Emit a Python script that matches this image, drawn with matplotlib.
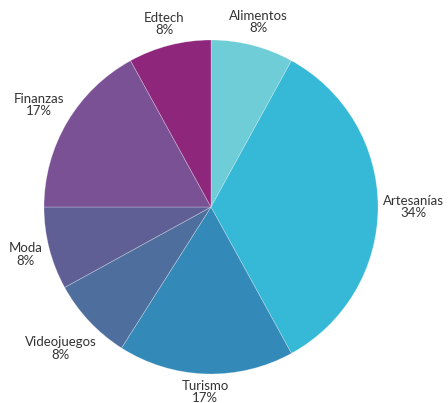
import numpy as np
import matplotlib
matplotlib.use('Agg')
import matplotlib.pyplot as plt

categories = ['Alimentos', 'Artesanías', 'Turismo', 'Videojuegos', 'Moda', 'Finanzas', 'Edtech']
values = [8, 34, 17, 8, 8, 17, 8]
colors = ['#6ECDD6', '#35B9D6', '#3389B8', '#4E6F9D', '#5F5F96', '#7B5196', '#8E277B']

plt.rcParams['font.family'] = ['Lato', 'DejaVu Sans']

fig = plt.figure(figsize=(4.48, 4.03), dpi=100)
# pie centred at (211, 207) px with radius ~167 px
ax = fig.add_axes([44 / 448, 29 / 403, 334 / 448, 334 / 403])

wedges, _ = ax.pie(values, colors=colors, startangle=90, counterclock=False,
                   radius=1.0, wedgeprops=dict(edgecolor=(1, 1, 1, 0.35), linewidth=0.5))
ax.set_xlim(-1, 1)
ax.set_ylim(-1, 1)

# labels outside each slice, pushed out so the text box clears the pie
fig.canvas.draw()
renderer = fig.canvas.get_renderer()
px_per_unit = 167.0
gap = 5.0
for w, name, v in zip(wedges, categories, values):
    ang = np.deg2rad((w.theta1 + w.theta2) / 2)
    t = ax.text(0, 0, f'{name}\n{v}%', ha='center', va='center',
                fontsize=9.5, color='#333333', linespacing=1.05)
    bb = t.get_window_extent(renderer)
    half = abs(np.cos(ang)) * bb.width / 2 + abs(np.sin(ang)) * bb.height / 2
    d = (px_per_unit + gap + half) / px_per_unit
    t.set_position((d * np.cos(ang), d * np.sin(ang)))

fig.savefig('out.png', dpi=100)
